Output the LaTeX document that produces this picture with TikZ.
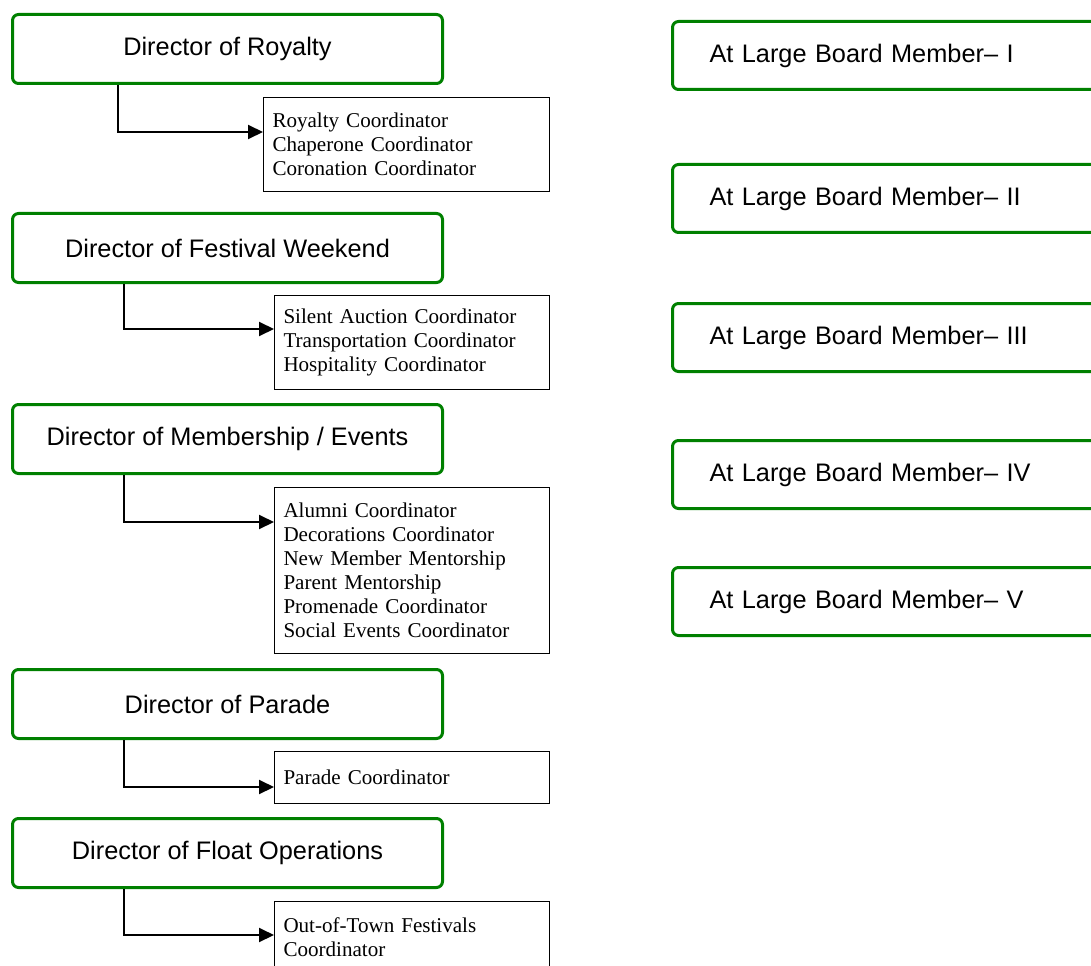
\documentclass[tikz,border=0pt]{standalone}
\usepackage{fontspec}
\setmainfont{Liberation Serif}
\setsansfont{Liberation Sans}
\usetikzlibrary{arrows.meta, calc}
\definecolor{boardgreen}{RGB}{0,128,0}
\tikzstyle{director} = [rectangle, rounded corners=4.5pt, minimum width=322.5pt, minimum height=51.75pt, text centered, draw=boardgreen, line width=2.25pt, font=\sffamily\fontsize{19}{23}\selectfont, anchor=north west]
\tikzstyle{member} = [director, inner xsep=27.75pt, text width=267pt, align=left, minimum height=51pt]
\tikzstyle{duties} = [rectangle, draw=black, line width=0.75pt, inner xsep=6.75pt, align=left, font=\fontsize{15.8}{18}\selectfont, anchor=north west, minimum width=206.25pt, text width=192.75pt]
\tikzstyle{arrow} = [line width=1.5pt, -{Triangle[length=11.25pt, width=10.5pt]}]

\begin{document}
\begin{tikzpicture}[x=0.75pt, y=-0.75pt]

\useasboundingbox (0,0) rectangle (1091,966);
\clip (0,0) rectangle (1091,966);

% Directors
\node (D1) [director] at (11,13) {Director of Royalty};
\node (D2) [director] at (11,212) {Director of Festival Weekend};
\node (D3) [director] at (11,403) {Director of Membership / Events};
\node (D4) [director] at (11,668) {Director of Parade};
\node (D5) [director] at (11,817) {Director of Float Operations};

% Coordinators
\node (S1) [duties, minimum width=214.5pt, text width=201pt, minimum height=70.5pt] at (263,97) {Royalty Coordinator\\Chaperone Coordinator\\Coronation Coordinator};
\node (S2) [duties, minimum height=70.5pt] at (274,295) {Silent Auction Coordinator\\Transportation Coordinator\\Hospitality Coordinator};
\node (S3) [duties, minimum height=124.5pt] at (274,487) {Alumni Coordinator\\Decorations Coordinator\\New Member Mentorship\\Parent Mentorship\\Promenade Coordinator\\Social Events Coordinator};
\node (S4) [duties, minimum height=39pt] at (274,751) {Parade Coordinator};
\node (S5) [duties, minimum height=54pt] at (274,901) {Out-of-Town Festivals\\Coordinator};

% At large members
\node (M1) [member] at (671,20) {At Large Board Member\textendash{} I};
\node (M2) [member] at (671,163) {At Large Board Member\textendash{} II};
\node (M3) [member] at (671,302) {At Large Board Member\textendash{} III};
\node (M4) [member] at (671,439) {At Large Board Member\textendash{} IV};
\node (M5) [member] at (671,566) {At Large Board Member\textendash{} V};

% Connecting arrows
\draw [arrow] ($(D1.south west)+(107,0)$) |- ($(S1.north west)+(0,35)$);
\draw [arrow] ($(D2.south west)+(113,0)$) |- ($(S2.north west)+(0,34)$);
\draw [arrow] ($(D3.south west)+(113,0)$) |- ($(S3.north west)+(0,35)$);
\draw [arrow] ($(D4.south west)+(113,0)$) |- ($(S4.north west)+(0,36)$);
\draw [arrow] ($(D5.south west)+(113,0)$) |- ($(S5.north west)+(0,34)$);

\end{tikzpicture}
\end{document}
